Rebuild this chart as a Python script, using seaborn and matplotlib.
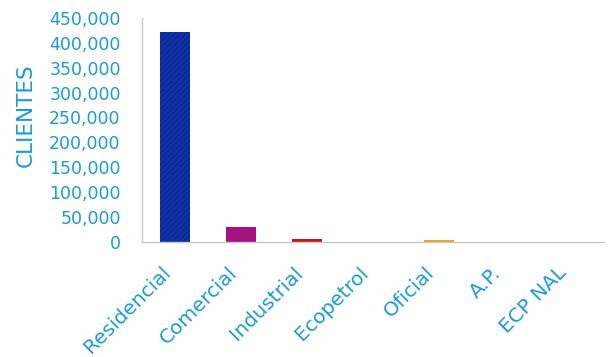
import matplotlib
matplotlib.use("Agg")
import matplotlib.pyplot as plt
import matplotlib.transforms as mtransforms
import seaborn as sns
import pandas as pd
from matplotlib.ticker import FuncFormatter, MultipleLocator

categories = ["Residencial", "Comercial", "Industrial", "Ecopetrol", "Oficial", "A.P.", "ECP NAL"]
clientes = [421000, 30000, 6000, 300, 4500, 150, 50]
bar_colors = ["#0b2a9c", "#a3127e", "#c8141a", "#3a8a3a", "#e8a622", "#7a4fa0", "#1a8fc8"]

text_color = "#1b9bd7"
axis_color = "#c8c8c8"

sns.set_theme(style="white")
plt.rcParams["font.family"] = ["DejaVu Sans"]
plt.rcParams["hatch.linewidth"] = 0.4

df = pd.DataFrame({"categoria": categories, "clientes": clientes})

fig = plt.figure(figsize=(6.13, 3.57), dpi=100)
ax = fig.add_axes([0.232, 0.322, 0.753, 0.628])

sns.barplot(data=df, x="categoria", y="clientes", hue="categoria",
            palette=bar_colors, width=0.46, legend=False, ax=ax,
            edgecolor="none", saturation=1)

# subtle texture on the first bar
ax.patches[0].set_hatch("//////")
ax.patches[0].set_edgecolor("#1e40b8")
ax.patches[0].set_linewidth(0)

ax.set_ylim(0, 450000)
ax.set_xlim(-0.5, len(categories) - 0.5)
ax.yaxis.set_major_locator(MultipleLocator(50000))
ax.yaxis.set_major_formatter(FuncFormatter(lambda v, p: f"{int(v):,}"))

# category-boundary tick marks, Excel style
ax.set_xticks([i - 0.5 for i in range(len(categories) + 1)], minor=True)
ax.set_xticks(range(len(categories)))
ax.set_xticklabels(categories, rotation=45, ha="right", rotation_mode="anchor",
                   color=text_color, fontsize=14.5)
ax.tick_params(axis="x", which="major", length=0, pad=13)
ax.tick_params(axis="x", which="minor", length=4, color=axis_color, direction="out")
ax.tick_params(axis="y", length=3.5, color=axis_color, direction="out",
               labelcolor=text_color, labelsize=12.5, pad=12)

offset = mtransforms.ScaledTranslation(-0.14, -0.03, fig.dpi_scale_trans)
for lbl in ax.get_xticklabels():
    lbl.set_transform(lbl.get_transform() + offset)

for s in ["top", "right"]:
    ax.spines[s].set_visible(False)
for s in ["left", "bottom"]:
    ax.spines[s].set_color(axis_color)
    ax.spines[s].set_linewidth(1.0)

ax.set_xlabel("")
ax.set_ylabel("CLIENTES", color=text_color, fontsize=15.5)
ax.yaxis.set_label_coords(-0.2316, 0.567)

fig.savefig("out.png", dpi=100)
